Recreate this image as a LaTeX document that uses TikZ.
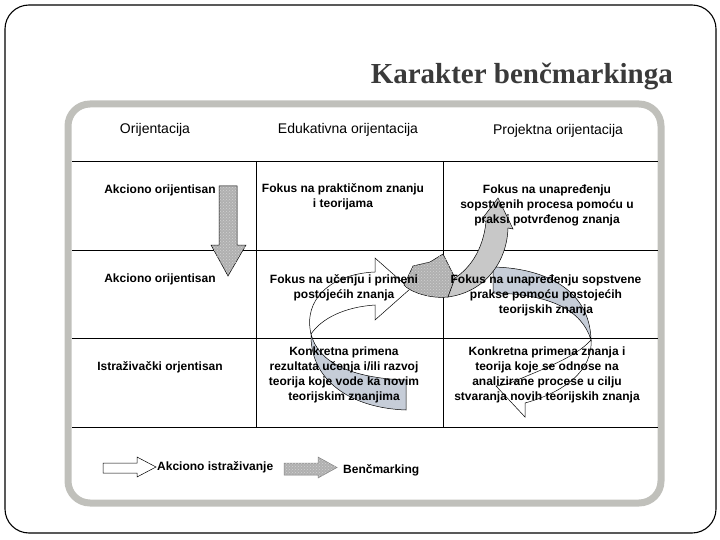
\documentclass[tikz,border=0pt]{standalone}
\usepackage{fontspec}
\setmainfont{Liberation Sans}
\newfontfamily\titlefont{Liberation Serif}
\usetikzlibrary{patterns}
\definecolor{framegray}{HTML}{C0C0BB}
\definecolor{bluegray}{HTML}{C6CDD8}
\definecolor{backgray}{HTML}{C8C8C8}
\definecolor{titlegray}{HTML}{3A3A3A}

\begin{document}
\begin{tikzpicture}[
  x=1pt, y=-1pt,
  cell/.style={align=center, font=\fontsize{12}{15}\selectfont\bfseries, inner sep=0pt},
  head/.style={font=\fontsize{14}{16}\selectfont, inner sep=0pt},
  grid/.style={line width=0.9pt},
  granite/.style={draw=black, line width=0.5pt, fill=gray!62,
    postaction={pattern=crosshatch dots, pattern color=gray!35}},
  back/.style={draw=black, line width=0.5pt, fill=bluegray},
  front/.style={draw=black, line width=0.5pt}
]
\useasboundingbox (0,0) rectangle (720,540);
\draw[line width=1.1pt, rounded corners=24pt] (5,5) rectangle (716,533);
\node[anchor=base east, inner sep=0pt, text=titlegray,
  font=\titlefont\bfseries\fontsize{29}{29}\selectfont] (title) at (673,84) {Karakter benčmarkinga};
\draw[framegray, line width=7pt, rounded corners=22pt] (68,104) rectangle (661,503);

% table
\foreach \y in {161,250,338,427}
  \draw[grid] (72,\y) -- (658,\y);
\foreach \x in {256,443}
  \draw[grid] (\x,161) -- (\x,427);

% arrows under the text
\draw[granite] (219,186) -- (237,186) -- (237,245) -- (246,245) -- (228,276)
  -- (211,245) -- (219,245) -- cycle;
\draw[back] (311,334) .. controls (318,362) and (350,378) .. (406,380) -- (406,410)
  .. controls (350,408) and (310,380) .. (311,334) -- cycle;
\draw[front] (311,334) .. controls (303,300) and (330,274) .. (375,272) -- (375,258)
  -- (410,289) -- (375,320) -- (375,305) .. controls (345,307) and (322,318) .. (311,334) -- cycle;
\draw[back] (493,267) .. controls (545,268) and (590,290) .. (591,340)
  .. controls (582,310) and (550,294) .. (493,293) -- cycle;
\draw[front] (591,340) .. controls (593,370) and (565,392) .. (525,403) -- (525,417)
  -- (496,386) -- (508,384) .. controls (540,370) and (575,358) .. (591,340) -- cycle;
\draw[granite] (443,254) -- (430,262) -- (413,266) -- (404,285)
  .. controls (410,292) and (430,299) .. (448,297) -- (455,278) -- cycle;
\draw[front, fill=backgray] (448,297) .. controls (485,292) and (507,262) .. (508,228)
  -- (513,229) -- (498,198) -- (482,219) -- (486,222)
  .. controls (483,250) and (470,268) .. (455,278) -- cycle;

% header
\node[head] (hor) at (155,130) {Orijentacija};
\node[head] (hed) at (348,130) {Edukativna orijentacija};
\node[head] (hpr) at (558,131) {Projektna orijentacija};

% cells
\node[cell] (left1) at (160,190) {Akciono orijentisan};
\node[cell] (left2) at (160,279) {Akciono orijentisan};
\node[cell] (left3) at (160,367) {Istraživački orjentisan};
\node[cell] (mid1) at (343,197) {Fokus na praktičnom znanju\\i teorijama};
\node[cell] (mid2) at (344,288) {Fokus na učenju i primeni\\postojećih znanja};
\node[cell] (mid3) at (344,375) {Konkretna primena\\rezultata učenja i/ili razvoj\\teorija koje vode ka novim\\teorijskim znanjima};
\node[cell] (right1) at (547,205) {Fokus na unapređenju\\sopstvenih procesa pomoću u\\praksi potvrđenog znanja};
\node[cell] (right2) at (546,295) {Fokus na unapređenju sopstvene\\prakse pomoću postojećih\\teorijskih znanja};
\node[cell] (right3) at (547,375) {Konkretna primena znanja i\\teorija koje se odnose na\\analizirane procese u cilju\\stvaranja novih teorijskih znanja};

% legend
\draw[front, fill=white] (103,463) -- (137,463) -- (137,457) -- (156,467) -- (137,477)
  -- (137,473) -- (103,473) -- cycle;
\node[cell, anchor=west] (lakc) at (157,467) {Akciono istraživanje};
\draw[granite, draw=gray] (284,463) -- (318,463) -- (318,457) -- (337,467.5) -- (318,478)
  -- (318,475) -- (284,475) -- cycle;
\node[cell, anchor=west] (lben) at (343,470) {Benčmarking};
\end{tikzpicture}
\end{document}
